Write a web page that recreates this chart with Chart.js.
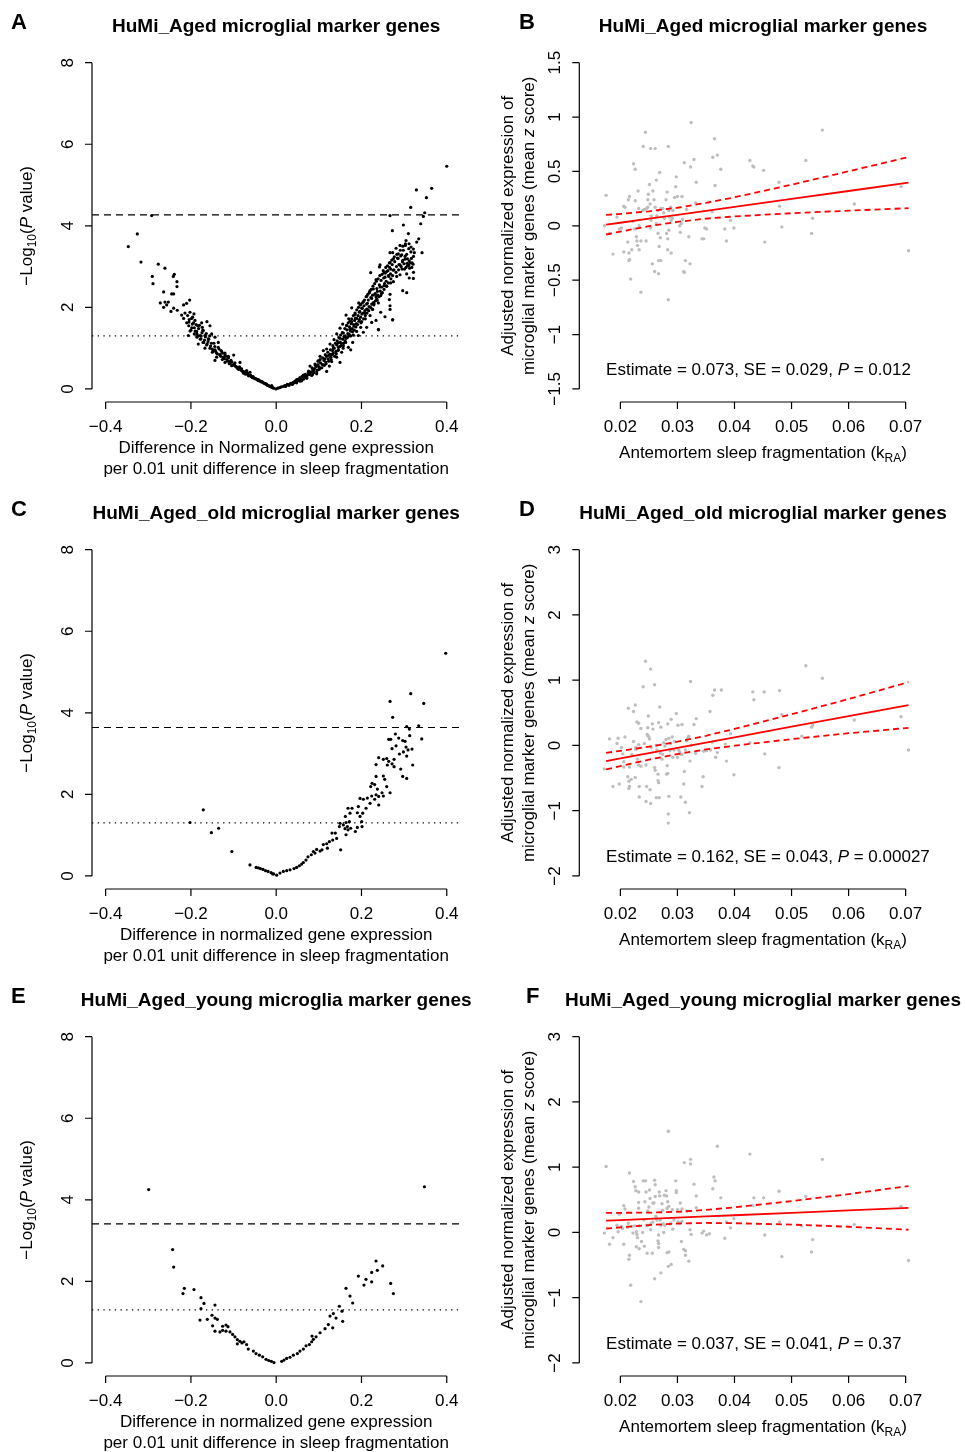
<!DOCTYPE html>
<html>
<head>
<meta charset="utf-8">
<script src="https://cdn.jsdelivr.net/npm/chart.js@4.4.0/dist/chart.umd.min.js"></script>
<style>
  body { margin: 0; background: #fff; }
  #fig { position: relative; width: 965px; height: 1452px; }
  canvas { position: absolute; }
</style>
</head>
<body>
<div id="fig">
  <canvas id="pA" width="482" height="487" style="left:0;top:0"></canvas>
  <canvas id="pB" width="483" height="487" style="left:482px;top:0"></canvas>
  <canvas id="pC" width="482" height="487" style="left:0;top:487px"></canvas>
  <canvas id="pD" width="483" height="487" style="left:482px;top:487px"></canvas>
  <canvas id="pE" width="482" height="478" style="left:0;top:974px"></canvas>
  <canvas id="pF" width="483" height="478" style="left:482px;top:974px"></canvas>
</div>
<script>
// ---- axis ticks / labels ----
const volcanoXTicks = [-0.4, -0.2, 0.0, 0.2, 0.4];
const volcanoXLabels = ['\u22120.4', '\u22120.2', '0.0', '0.2', '0.4'];
const volcanoYTicks = [0, 2, 4, 6, 8];
const scatterXTicks = [0.02, 0.03, 0.04, 0.05, 0.06, 0.07];
const scatterXLabels = ['0.02', '0.03', '0.04', '0.05', '0.06', '0.07'];
const bYTicks = [-1.5, -1, -0.5, 0, 0.5, 1, 1.5];
const bYLabels = ['\u22121.5', '\u22121', '\u22120.5', '0', '0.5', '1', '1.5'];
const dfYTicks = [-2, -1, 0, 1, 2, 3];
const dfYLabels = ['\u22122', '\u22121', '0', '1', '2', '3'];

// ---- significance thresholds (-log10 P) ----
const nominalLine = 1.3;
const bonferroniA = 4.27;
const bonferroniC = 3.64;
const bonferroniE = 3.41;

// ---- volcano points [difference, -log10 P] ----
const panelA_points = [
  [0.400,5.46],[0.3647,4.92],[0.3288,4.88],[0.3522,4.69],[0.3155,4.45],[0.3483,4.32],[0.3452,4.23],[0.2670,4.25],
  [0.3389,4.05],[0.2983,4.02],[0.2724,3.88],[0.3100,3.81],[0.3342,3.68],[0.3295,3.60],[0.3045,3.64],[0.3116,3.56],
  [0.3030,3.52],[0.3163,3.48],[0.2904,3.52],[0.2811,3.45],[0.3217,3.43],[0.3420,3.34],[0.2670,3.34],[0.2732,3.34],
  [0.2865,3.31],[0.2943,3.29],[0.3022,3.25],[0.2842,3.21],[0.3077,3.19],[0.2967,3.15],[0.2748,3.19],[0.3139,3.09],
  [0.3186,3.09],[0.2998,3.07],[0.2654,3.09],[0.2435,3.04],[0.2420,2.99],[0.2904,3.04],[0.3108,3.03],[0.3045,2.98],
  [0.2951,2.94],[0.2685,2.94],[0.2748,2.91],[0.2591,2.88],[0.2529,2.85],[0.2482,2.81],[0.2216,2.85],[0.2630,2.78],
  [0.2552,2.74],[0.2826,2.76],[0.2904,2.80],[0.3217,2.71],[0.2748,2.63],[0.2685,2.60],[0.2341,2.68],[0.2529,2.53],
  [0.2435,2.50],[0.2591,2.52],[0.2279,2.45],[0.2201,2.41],[0.2373,2.39],[0.2185,2.36],[0.2318,2.32],[0.2490,2.36],
  [0.2670,2.32],[0.2967,2.41],[0.3061,2.36],[0.2122,2.27],[0.2240,2.22],[0.2357,2.21],[0.2451,2.29],[0.2654,2.19],
  [0.2044,2.14],[0.2138,2.10],[0.2294,2.09],[0.2396,2.11],[0.1989,2.08],[0.1935,2.11],[0.2670,2.04],[0.2670,1.95],
  [0.1771,1.99],[0.2005,1.98],[0.2122,1.96],[0.2263,1.95],[0.2451,1.88],[0.2083,1.86],[0.1950,1.88],[0.1849,1.83],
  [0.2201,1.80],[0.2552,1.77],[0.1638,1.81],[0.1700,1.72],[0.1888,1.73],[0.2091,1.72],[0.2341,1.68],[0.2732,1.70],
  [0.1771,1.65],[0.2005,1.65],[0.2240,1.63],[0.1559,1.59],[0.1653,1.55],[0.1825,1.54],[0.1982,1.51],[0.2122,1.51],
  [0.2396,1.46],[0.1497,1.49],[0.1731,1.46],[0.1888,1.41],[0.2044,1.39],[0.1575,1.37],[0.1419,1.35],[0.1810,1.32],
  [0.1927,1.31],[0.1692,1.29],[0.1497,1.24],[0.1356,1.21],[0.1614,1.18],[0.1794,1.14],[0.1458,1.13],[0.1262,1.10],
  [0.1575,1.06],[0.1692,1.02],[0.1340,1.00],[0.1184,0.98],[0.1458,0.96],[0.1106,0.94],[0.1747,0.96],[0.1536,0.90],
  [0.1325,0.86],[0.1223,0.82],[0.1028,0.80],[0.1419,0.78],[0.1145,0.74],[0.0989,0.69],[0.1301,0.67],[0.1497,0.65],
  [0.0910,0.61],[0.1106,0.59],[0.1247,0.56],[0.0793,0.56],[0.1028,0.51],[0.0871,0.45],[0.1184,0.43],[0.0754,0.41],
  [0.0949,0.37],[0.0637,0.34],[0.0832,0.33],[0.0558,0.28],[0.0715,0.26],[0.0480,0.23],[0.0597,0.20],[0.0402,0.16],
  [0.0363,0.14],[0.273,1.69],[0.240,1.45],
  [0.100,0.55],[0.104,0.64],[0.108,0.60],[0.112,0.70],[0.116,0.66],[0.118,0.80],[0.122,0.74],[0.126,0.85],
  [0.128,0.78],[0.132,0.94],[0.134,0.88],[0.136,1.00],[0.140,0.92],[0.142,1.08],[0.146,1.02],[0.150,1.15],
  [0.152,1.06],[0.156,1.22],[0.158,1.12],[0.162,1.30],[0.164,1.24],[0.166,1.45],[0.168,1.36],[0.172,1.52],
  [0.174,1.42],[0.176,1.60],[0.178,1.48],[0.182,1.58],[0.184,1.68],[0.186,1.74],[0.188,1.60],[0.192,1.80],
  [0.194,1.66],[0.196,1.90],[0.198,1.76],[0.202,1.98],[0.204,1.86],[0.206,2.04],[0.208,1.92],[0.212,2.08],
  [0.214,1.95],[0.216,2.18],[0.218,2.02],[0.222,2.24],[0.224,2.08],[0.226,2.30],[0.228,2.12],[0.232,2.34],
  [0.234,2.26],[0.236,2.46],[0.238,2.30],[0.242,2.55],[0.244,2.40],[0.246,2.66],[0.248,2.50],[0.252,2.72],
  [0.254,2.58],[0.256,2.84],[0.258,2.64],[0.262,2.90],[0.264,2.76],[0.266,2.98],[0.268,2.82],[0.272,3.05],
  [0.276,2.92],[0.278,3.12],[0.282,3.00],[0.286,3.20],[0.288,3.05],[0.292,3.26],[0.296,3.12],[0.298,3.40],
  [0.302,3.18],[0.306,3.30],[0.308,3.02],[0.312,3.14],[0.316,3.36],[0.318,2.98],[0.322,3.25],[0.306,2.82],
  [0.312,2.72],[0.322,2.86],
  [0.101,0.48],[0.103,0.72],[0.107,0.52],[0.109,0.76],[0.113,0.58],[0.115,0.84],[0.117,0.62],[0.121,0.90],
  [0.123,0.68],[0.127,0.96],[0.129,0.72],[0.131,0.84],[0.133,1.06],[0.137,0.80],[0.139,1.12],[0.141,0.86],
  [0.143,1.18],[0.145,0.94],[0.147,1.26],[0.149,1.04],[0.151,1.32],[0.153,1.12],[0.155,1.38],[0.157,1.00],
  [0.159,1.28],[0.161,1.48],[0.163,1.14],[0.165,1.56],[0.167,1.26],[0.169,1.62],[0.171,1.34],[0.173,1.66],
  [0.175,1.30],[0.177,1.72],[0.179,1.40],[0.181,1.80],[0.183,1.44],[0.185,1.86],[0.187,1.52],[0.189,1.94],
  [0.191,1.58],[0.193,2.00],[0.195,1.70],[0.197,2.06],[0.199,1.62],[0.201,1.84],[0.203,2.12],[0.205,1.72],
  [0.207,2.18],[0.209,1.80],[0.211,2.26],[0.213,1.86],[0.215,2.32],[0.217,1.92],[0.219,2.38],[0.221,2.00],
  [0.223,2.44],[0.225,1.96],[0.227,2.52],[0.229,2.06],[0.231,2.58],[0.233,2.16],[0.235,2.64],[0.237,2.18],
  [0.239,2.70],[0.241,2.26],[0.243,2.78],[0.247,2.34],[0.251,2.90],[0.253,2.44],[0.257,2.98],[0.259,2.52],
  [0.261,3.02],[0.263,2.60],[0.267,3.10],[0.269,2.70],[0.271,3.16],[0.273,2.78],[0.277,3.24],[0.281,2.86],
  [0.283,3.30],[0.287,2.92],[0.291,3.40],[0.293,3.00],[0.297,3.50],[0.301,2.94],[0.303,3.56],[0.307,3.08],
  [0.311,3.44],[0.313,2.96],[0.317,3.20],[0.321,3.06],[0.324,3.34],
  [0.022,0.06],[0.026,0.11],[0.030,0.09],[0.034,0.14],[0.038,0.11],[0.044,0.19],[0.048,0.15],[0.052,0.24],
  [0.056,0.19],[0.060,0.30],[0.064,0.24],[0.068,0.36],[0.072,0.29],[0.076,0.44],[0.080,0.35],[0.084,0.52],
  [0.088,0.40],[0.092,0.58],[0.096,0.46],[0.098,0.68],
  [0.042,0.15],[0.046,0.17],[0.050,0.20],[0.054,0.21],[0.058,0.25],[0.062,0.27],[0.066,0.30],[0.070,0.33],
  [0.074,0.35],[0.078,0.40],[0.082,0.42],[0.086,0.48],[0.090,0.50],[0.094,0.55],[0.098,0.60],[0.085,0.35],
  [0.095,0.42],[0.004,0.02],[0.008,0.03],[0.012,0.05],[0.016,0.06],[0.020,0.08],[0.024,0.09],[0.028,0.10],
  [0.032,0.12],[0.036,0.13],
  [-0.292,4.25],[-0.3258,3.80],[-0.3469,3.49],[-0.3171,3.11],[-0.2765,3.06],[-0.2609,2.96],[-0.2906,2.76],
  [-0.2390,2.81],[-0.2413,2.76],[-0.2327,2.63],[-0.2890,2.58],[-0.2327,2.51],[-0.2640,2.38],[-0.2452,2.33],
  [-0.2405,2.33],[-0.2030,2.18],[-0.2718,2.11],[-0.2609,2.13],[-0.2531,2.13],[-0.2569,2.06],[-0.2640,2.00],
  [-0.2405,1.98],[-0.2171,2.06],[-0.2101,2.10],[-0.2320,1.93],[-0.2468,1.90],[-0.2139,1.86],[-0.2217,1.81],
  [-0.2022,1.88],[-0.1929,1.84],[-0.2077,1.80],[-0.1983,1.73],[-0.2171,1.73],[-0.1905,1.68],[-0.2046,1.64],
  [-0.1967,1.59],[-0.1749,1.62],[-0.1624,1.65],[-0.1553,1.55],[-0.1842,1.55],[-0.1733,1.51],[-0.2022,1.42],
  [-0.1866,1.41],[-0.1710,1.43],[-0.1921,1.35],[-0.1788,1.31],[-0.1671,1.31],[-0.1514,1.35],[-0.2061,1.31],
  [-0.1858,1.27],[-0.1765,1.23],[-0.1593,1.23],[-0.1436,1.27],[-0.1717,1.14],[-0.1827,1.10],[-0.1631,1.08],
  [-0.1358,1.14],[-0.1553,1.00],[-0.1671,1.00],[-0.1436,0.96],[-0.1498,0.90],[-0.1295,0.94],[-0.1201,0.88],
  [-0.1318,0.83],[-0.1397,0.78],[-0.1436,0.70],[-0.1264,0.72],[-0.1122,0.80],[-0.0997,0.83],[-0.1083,0.67],
  [-0.1201,0.65],[-0.0967,0.64],[-0.1045,0.57],[-0.0849,0.65],[-0.0904,0.53],[-0.0810,0.49],[-0.0693,0.45],
  [-0.0771,0.39],[-0.0615,0.41],[-0.0654,0.33],[-0.0560,0.29],[-0.0497,0.25],[-0.0419,0.23],[-0.0342,0.18],
  [-0.0224,0.12],[-0.0106,0.08],[-0.0005,0.00],
  [-0.210,1.62],[-0.205,1.55],[-0.198,1.50],[-0.194,1.62],[-0.190,1.42],[-0.186,1.35],[-0.182,1.48],[-0.178,1.22],
  [-0.174,1.38],[-0.170,1.14],[-0.166,1.28],[-0.162,1.10],[-0.158,1.22],[-0.154,1.05],[-0.150,0.98],[-0.146,1.12],
  [-0.142,0.92],[-0.138,0.86],[-0.134,0.98],[-0.130,0.80],[-0.126,0.88],[-0.122,0.74],[-0.118,0.80],[-0.114,0.68],
  [-0.110,0.62],[-0.106,0.70],[-0.102,0.58],[-0.098,0.60],[-0.094,0.55],[-0.090,0.50],[-0.086,0.54],[-0.082,0.46],
  [-0.078,0.43],[-0.074,0.42],[-0.070,0.38],[-0.066,0.36],[-0.062,0.33],[-0.058,0.30],[-0.054,0.30],[-0.050,0.26],
  [-0.046,0.24],[-0.042,0.21],[-0.038,0.20],[-0.034,0.17],[-0.030,0.15],[-0.026,0.13],[-0.022,0.10],[-0.018,0.08],
  [-0.014,0.06],[-0.010,0.04],[-0.006,0.02],
  [-0.204,1.70],[-0.200,1.44],[-0.196,1.76],[-0.192,1.50],[-0.188,1.58],[-0.184,1.30],[-0.180,1.56],[-0.176,1.30],
  [-0.172,1.44],[-0.168,1.20],[-0.164,1.36],[-0.160,1.16],[-0.156,1.30],[-0.152,1.12],[-0.148,0.94],[-0.144,1.04],
  [-0.140,0.88],[-0.136,1.02],[-0.132,0.84],[-0.128,0.92],[-0.124,0.78],[-0.120,0.84],[-0.116,0.72],[-0.112,0.76],
  [-0.108,0.64],[-0.104,0.66],[-0.100,0.60],[-0.096,0.56],[-0.092,0.52],[-0.088,0.48],[-0.084,0.50],[-0.080,0.44],
  [-0.076,0.40],[-0.072,0.36],[-0.068,0.40],[-0.064,0.32],[-0.060,0.34],[-0.056,0.28],[-0.052,0.27],[-0.048,0.25],
  [-0.044,0.22],[-0.040,0.20],[-0.036,0.18],[-0.032,0.17],[-0.028,0.14],[-0.024,0.12],[-0.020,0.09],[-0.016,0.07],
  [-0.012,0.05],[-0.008,0.03]
];

const panelC_points = [
  [0.3976,5.46],[0.3155,4.47],[0.2670,4.28],[0.3460,4.23],[0.2732,3.89],[0.3061,3.66],[0.3123,3.60],[0.3342,3.68],
  [0.2795,3.48],[0.2686,3.35],[0.2639,3.35],[0.2873,3.38],[0.2967,3.32],[0.3022,3.30],[0.3413,3.36],[0.3131,3.44],
  [0.2811,3.19],[0.2717,3.12],[0.3045,3.16],[0.3186,3.11],[0.3092,3.09],[0.2983,3.04],[0.2889,2.99],[0.3061,2.94],
  [0.2404,2.90],[0.2513,2.86],[0.2592,2.88],[0.2639,2.81],[0.2764,2.86],[0.2342,2.73],[0.2717,2.75],[0.2607,2.72],
  [0.2764,2.68],[0.3201,2.72],[0.2920,2.62],[0.2967,2.44],[0.3061,2.39],[0.2342,2.44],[0.2513,2.45],[0.2545,2.37],
  [0.2248,2.27],[0.2310,2.24],[0.2216,2.19],[0.2373,2.13],[0.2592,2.19],[0.2482,2.04],[0.2670,2.04],[0.2342,1.99],
  [0.2240,1.96],[0.2404,1.95],[0.2513,1.96],[0.2310,1.88],[0.2138,1.91],[0.2201,1.78],[0.2404,1.74],[0.2044,1.88],
  [0.1966,1.90],[0.1927,1.70],[0.2107,1.66],[0.2029,1.54],[0.1778,1.66],[0.1903,1.55],[0.1684,1.66],[0.1731,1.54],
  [0.1966,1.46],[0.1622,1.46],[0.1716,1.33],[0.2005,1.33],[0.1638,1.31],[0.1575,1.25],[0.1669,1.21],[0.1747,1.17],
  [0.1497,1.29],[0.1481,1.21],[0.1614,1.16],[0.1903,1.19],[0.2013,1.21],[0.1684,1.13],[0.1638,1.01],[0.1856,1.09],
  [0.1387,1.05],[0.1309,1.05],[0.1419,0.92],[0.1325,0.88],[0.1247,0.84],[0.1184,0.79],[0.1106,0.77],[0.1200,0.68],
  [0.1512,0.64],[0.1074,0.64],[0.1028,0.61],[0.0949,0.65],[0.0871,0.60],[0.0910,0.56],[0.0824,0.52],[0.0746,0.47],
  [0.0699,0.39],[0.0637,0.33],[0.0597,0.29],[0.0543,0.25],[0.0480,0.21],[0.0418,0.18],[0.0324,0.15],[0.0246,0.13],
  [0.0167,0.11],[0.0089,0.07],[0.0011,0.02],[-0.0083,0.05],
  [-0.2022,1.31],[-0.171,1.62],[-0.152,1.06],[-0.135,1.17],[-0.104,0.60],[-0.0615,0.27],[-0.047,0.21],[-0.042,0.20],
  [-0.037,0.18],[-0.031,0.16],[-0.025,0.13],[-0.019,0.11],[-0.012,0.08],[-0.006,0.05]
];

const panelE_points = [
  [-0.2991,4.25],[0.3476,4.32],[-0.2429,2.78],[-0.2405,2.35],[-0.2155,1.83],[-0.2186,1.70],[-0.1928,1.80],[-0.1764,1.60],
  [-0.1694,1.46],[-0.1764,1.33],[-0.1436,1.42],[-0.1788,1.05],[-0.1616,1.07],[-0.1506,1.17],[-0.1436,1.10],[-0.1381,1.07],
  [-0.1491,0.91],[-0.1436,0.78],[-0.1319,0.76],[-0.1256,0.90],[-0.1178,0.93],[-0.1131,0.89],[-0.1256,0.80],[-0.1178,0.78],
  [-0.1084,0.76],[-0.1022,0.70],[-0.0967,0.64],[-0.0912,0.57],[-0.0850,0.53],[-0.0803,0.49],[-0.0756,0.52],[-0.0694,0.45],
  [-0.0654,0.34],[-0.0912,0.47],[-0.0536,0.29],[-0.0473,0.23],[-0.0395,0.19],[-0.0317,0.15],[-0.0239,0.09],[-0.0176,0.06],
  [-0.0114,0.04],[-0.0052,0.01],[0.0129,0.04],[0.0184,0.07],[0.0246,0.11],[0.0324,0.14],[0.0402,0.19],[0.0496,0.23],
  [0.0558,0.29],[0.0637,0.34],[0.0700,0.42],[0.0778,0.45],[0.0833,0.52],[0.0872,0.58],[0.0935,0.64],[0.0840,0.66],
  [0.1028,0.74],[0.1145,0.84],[0.1223,0.94],[0.1262,1.15],[0.1340,1.21],[0.1325,0.86],[0.1403,1.10],[0.1481,1.39],
  [0.1559,1.02],[0.1543,1.27],[0.1637,1.83],[0.1731,1.64],[0.1794,1.47],[0.1927,2.13],[0.2059,1.91],[0.2106,2.05],
  [0.2239,1.99],[0.2239,2.22],[0.2341,2.50],[0.2372,2.27],[0.2497,2.38],[0.2685,1.95],[0.2748,1.70]
];

// ---- per-subject points [k_RA, adjusted expression] ----
const panelB_points = [
  [0.0175,0.28],[0.0172,0.00],[0.0181,-0.07],[0.0187,-0.26],[0.0194,0.08],[0.0198,-0.03],[0.0202,-0.02],[0.0206,0.18],
  [0.0208,0.17],[0.0206,-0.24],[0.0213,-0.15],[0.0215,-0.25],[0.0215,-0.32],[0.0216,-0.31],[0.0214,0.24],[0.0216,0.27],
  [0.0218,-0.49],[0.0220,-0.22],[0.0223,0.57],[0.0226,0.52],[0.0226,0.23],[0.0222,0.04],[0.0225,-0.03],[0.0228,-0.10],
  [0.0229,-0.14],[0.0230,-0.18],[0.0231,0.32],[0.0232,0.16],[0.0233,-0.22],[0.0233,0.00],[0.0236,-0.61],[0.0236,-0.14],
  [0.0239,0.14],[0.0240,0.73],[0.0242,0.15],[0.0244,0.86],[0.0245,-0.14],[0.0246,0.16],[0.0248,0.17],[0.0249,0.29],
  [0.0248,0.24],[0.0251,0.38],[0.0252,0.20],[0.0253,0.71],[0.0253,-0.02],[0.0254,0.05],[0.0254,0.09],[0.0256,-0.35],
  [0.0257,0.32],[0.0259,0.24],[0.0260,-0.42],[0.0261,0.71],[0.0261,0.17],[0.0263,0.42],[0.0263,0.02],[0.0264,0.09],
  [0.0266,0.14],[0.0266,-0.07],[0.0267,-0.44],[0.0267,-0.32],[0.0268,-0.19],[0.0269,0.49],[0.0270,-0.11],[0.0271,-0.32],
  [0.0271,0.16],[0.0274,0.16],[0.0276,0.12],[0.0277,0.07],[0.0280,0.24],[0.0281,-0.07],[0.0282,0.31],[0.0283,-0.22],
  [0.0283,-0.12],[0.0284,0.73],[0.0284,-0.68],[0.0285,-0.04],[0.0285,0.14],[0.0286,0.08],[0.0288,0.17],[0.0289,-0.25],
  [0.0289,0.05],[0.0291,0.07],[0.0292,0.14],[0.0295,0.26],[0.0297,0.36],[0.0298,0.45],[0.0300,0.27],[0.0304,0.00],
  [0.0305,-0.06],[0.0307,0.02],[0.0308,0.27],[0.0309,0.06],[0.0312,0.58],[0.0314,-0.32],[0.0311,-0.42],[0.0312,-0.43],
  [0.0316,0.15],[0.0320,-0.10],[0.0322,-0.35],[0.0323,0.54],[0.0324,0.95],[0.0329,0.61],[0.0333,0.40],[0.0332,0.21],
  [0.0343,-0.12],[0.0346,-0.12],[0.0348,-0.02],[0.0351,-0.03],[0.0356,0.22],[0.0361,0.13],[0.0362,0.63],[0.0365,0.80],
  [0.0366,0.37],[0.0370,0.65],[0.0376,0.52],[0.0383,-0.03],[0.0386,-0.14],[0.0393,0.05],[0.0399,-0.02],[0.0427,0.60],
  [0.0432,0.55],[0.0434,0.54],[0.0451,0.51],[0.0453,-0.15],[0.0478,0.40],[0.0479,0.18],[0.0483,-0.01],[0.0525,0.60],
  [0.0535,-0.07],[0.0537,0.07],[0.0554,0.88],[0.0610,0.20],[0.0692,0.36],[0.0705,-0.23]
];

const panelD_points = [
  [0.0181,0.10],[0.0172,-0.36],[0.0187,-0.63],[0.0194,0.03],[0.0196,0.11],[0.0198,-0.59],[0.0202,-0.03],[0.0204,-0.13],
  [0.0206,-0.25],[0.0206,-0.33],[0.0208,0.13],[0.0213,-0.48],[0.0214,0.57],[0.0215,-0.66],[0.0215,-0.55],[0.0216,-0.63],
  [0.0216,-0.33],[0.0219,-0.52],[0.0220,-0.14],[0.0223,0.06],[0.0223,0.52],[0.0226,0.62],[0.0226,-0.49],[0.0227,-0.06],
  [0.0227,-0.03],[0.0229,0.36],[0.0230,-0.21],[0.0232,-0.30],[0.0232,0.01],[0.0232,0.34],[0.0233,-0.63],[0.0233,-0.79],
  [0.0236,-0.32],[0.0236,0.26],[0.0240,0.90],[0.0242,0.03],[0.0244,1.29],[0.0245,-0.30],[0.0245,-0.86],[0.0246,-0.63],
  [0.0247,0.17],[0.0248,0.27],[0.0248,0.15],[0.0249,0.45],[0.0250,0.13],[0.0251,0.10],[0.0252,-0.68],[0.0253,1.17],
  [0.0253,-0.89],[0.0254,-0.03],[0.0256,0.33],[0.0257,0.25],[0.0260,0.93],[0.0260,-0.34],[0.0261,-0.38],[0.0263,-0.80],
  [0.0263,0.00],[0.0264,-0.07],[0.0266,-0.44],[0.0266,-0.54],[0.0267,-0.57],[0.0267,0.35],[0.0268,-0.80],[0.0269,0.59],
  [0.0270,-0.12],[0.0271,0.28],[0.0273,-0.21],[0.0274,-0.14],[0.0276,0.04],[0.0278,-0.01],[0.0280,0.09],[0.0281,-0.44],
  [0.0282,-0.31],[0.0283,-0.43],[0.0283,0.33],[0.0284,-1.19],[0.0284,-1.05],[0.0285,-0.78],[0.0285,0.11],[0.0287,-0.08],
  [0.0288,0.03],[0.0289,0.40],[0.0291,0.13],[0.0292,-0.18],[0.0294,-0.07],[0.0295,0.06],[0.0298,0.49],[0.0300,-0.18],
  [0.0301,0.31],[0.0302,-0.07],[0.0304,-0.10],[0.0305,-0.13],[0.0306,-0.79],[0.0308,-0.14],[0.0308,0.32],[0.0311,-0.59],
  [0.0312,-0.40],[0.0314,-0.87],[0.0314,-0.07],[0.0316,0.07],[0.0318,0.11],[0.0320,0.14],[0.0321,-1.03],[0.0322,-0.24],
  [0.0323,0.98],[0.0324,0.00],[0.0329,0.32],[0.0333,0.41],[0.0332,-0.12],[0.0343,-0.63],[0.0345,-0.48],[0.0346,-0.09],
  [0.0351,-0.08],[0.0357,0.52],[0.0358,-0.07],[0.0361,0.05],[0.0362,0.77],[0.0365,0.85],[0.0367,-0.18],[0.0370,-0.11],
  [0.0377,0.85],[0.0384,0.02],[0.0386,-0.24],[0.0393,0.18],[0.0399,-0.45],[0.0427,0.04],[0.0432,0.82],[0.0434,0.70],
  [0.0452,0.82],[0.0453,-0.13],[0.0478,-0.34],[0.0479,0.84],[0.0483,0.47],[0.0518,0.14],[0.0525,1.22],[0.0535,0.28],
  [0.0537,0.31],[0.0554,1.03],[0.0610,0.39],[0.0692,0.44],[0.0705,-0.07]
];

const panelF_points = [
  [0.0175,1.01],[0.0172,-0.01],[0.0181,-0.18],[0.0187,-0.08],[0.0194,0.11],[0.0196,0.01],[0.0198,0.28],[0.0202,0.09],
  [0.0204,0.06],[0.0206,0.41],[0.0206,-0.18],[0.0208,0.36],[0.0213,0.08],[0.0214,0.14],[0.0215,-0.41],[0.0216,-0.35],
  [0.0216,0.91],[0.0218,-0.81],[0.0220,0.09],[0.0222,-0.01],[0.0223,0.78],[0.0225,0.10],[0.0226,0.70],[0.0227,0.64],
  [0.0228,-0.22],[0.0228,0.01],[0.0229,-0.03],[0.0230,-0.08],[0.0232,0.62],[0.0232,0.46],[0.0232,0.37],[0.0233,-0.25],
  [0.0233,0.10],[0.0236,-1.06],[0.0237,-0.14],[0.0239,0.00],[0.0240,0.79],[0.0241,0.19],[0.0242,-0.21],[0.0243,0.47],
  [0.0244,0.79],[0.0245,0.62],[0.0246,0.11],[0.0247,-0.32],[0.0248,0.33],[0.0249,0.11],[0.0250,0.39],[0.0251,0.65],
  [0.0252,0.52],[0.0253,0.04],[0.0254,0.14],[0.0256,-0.32],[0.0257,0.45],[0.0257,0.16],[0.0259,0.45],[0.0260,-0.71],
  [0.0260,0.80],[0.0261,0.73],[0.0261,0.55],[0.0262,0.25],[0.0263,0.23],[0.0264,0.19],[0.0266,-0.13],[0.0267,-0.23],
  [0.0267,-0.04],[0.0267,-0.17],[0.0268,0.62],[0.0269,0.56],[0.0270,0.19],[0.0271,0.11],[0.0271,-0.62],[0.0273,0.44],
  [0.0274,0.34],[0.0275,0.13],[0.0276,0.00],[0.0277,0.57],[0.0278,0.11],[0.0280,0.64],[0.0281,0.56],[0.0282,-0.31],
  [0.0282,0.37],[0.0283,0.47],[0.0284,-0.52],[0.0284,1.55],[0.0285,-0.30],[0.0285,0.40],[0.0287,0.13],[0.0289,-0.49],
  [0.0289,0.14],[0.0291,0.35],[0.0292,0.05],[0.0294,0.19],[0.0297,0.79],[0.0298,0.64],[0.0298,0.61],[0.0300,0.35],
  [0.0301,0.16],[0.0304,0.14],[0.0305,0.45],[0.0307,-0.14],[0.0308,0.36],[0.0308,0.17],[0.0311,-0.26],[0.0312,1.07],
  [0.0314,-0.28],[0.0314,-0.35],[0.0316,0.33],[0.0320,-0.44],[0.0322,0.04],[0.0323,1.05],[0.0323,1.12],[0.0324,-0.03],
  [0.0329,0.74],[0.0333,0.38],[0.0333,0.56],[0.0343,-0.01],[0.0346,0.02],[0.0351,-0.04],[0.0356,-0.02],[0.0362,0.67],
  [0.0364,0.85],[0.0366,0.79],[0.0370,1.32],[0.0376,0.53],[0.0383,-0.09],[0.0386,0.16],[0.0393,0.07],[0.0399,0.21],
  [0.0427,1.20],[0.0432,0.41],[0.0434,0.53],[0.0451,0.53],[0.0453,-0.04],[0.0478,0.63],[0.0479,0.16],[0.0483,-0.37],
  [0.0518,0.10],[0.0525,0.55],[0.0535,-0.30],[0.0537,-0.11],[0.0554,1.12],[0.0610,0.12],[0.0692,0.40],[0.0705,-0.43]
];

// ---- regression fit and 95% band, read at these k_RA values ----
const bandX = [0.0175, 0.02, 0.025, 0.03, 0.035, 0.04, 0.05, 0.06, 0.0705];
const fitB   = [0.010, 0.028, 0.065, 0.101, 0.138, 0.174, 0.247, 0.320, 0.397];
const upperB = [0.100, 0.109, 0.133, 0.166, 0.210, 0.262, 0.378, 0.501, 0.632];
const lowerB = [-0.080, -0.053, -0.003, 0.036, 0.066, 0.086, 0.116, 0.139, 0.162];
const fitD   = [-0.240, -0.200, -0.119, -0.038, 0.044, 0.125, 0.287, 0.449, 0.619];
const upperD = [-0.113, -0.083, -0.020, 0.057, 0.148, 0.253, 0.477, 0.711, 0.969];
const lowerD = [-0.367, -0.317, -0.218, -0.132, -0.061, -0.004, 0.097, 0.187, 0.269];
const fitF   = [0.180, 0.189, 0.208, 0.226, 0.245, 0.263, 0.300, 0.337, 0.376];
const upperF = [0.300, 0.301, 0.303, 0.316, 0.345, 0.385, 0.480, 0.587, 0.711];
const lowerF = [0.060, 0.077, 0.113, 0.136, 0.145, 0.141, 0.120, 0.087, 0.041];

// ---- drawing helpers ----
const FONT = "'Liberation Sans', Arial, Helvetica, sans-serif";
const F17 = '17px ' + FONT;
const F17I = 'italic 17px ' + FONT;
const F12 = '12px ' + FONT;

function drawRich(ctx, segs, x, y, align, angle) {
  let w = 0;
  segs.forEach(s => { ctx.font = s.f; s.w = ctx.measureText(s.t).width; w += s.w; });
  ctx.save();
  ctx.translate(x, y);
  if (angle) ctx.rotate(angle);
  ctx.textAlign = 'left';
  ctx.textBaseline = 'alphabetic';
  let cx = align === 'center' ? -w / 2 : 0;
  segs.forEach(s => { ctx.font = s.f; ctx.fillText(s.t, cx, s.dy || 0); cx += s.w; });
  ctx.restore();
}

// base-R look: detached axes, rotated y tick labels, titles
function rPlot(cfg) {
  return {
    id: 'rplot',
    afterDraw(chart) {
      const ctx = chart.ctx, a = chart.chartArea;
      const xs = chart.scales.x, ys = chart.scales.y;
      ctx.save();
      ctx.fillStyle = '#000';
      ctx.strokeStyle = '#000';
      ctx.lineWidth = 1.2;

      // y axis
      const yp = cfg.yTicks.map(v => ys.getPixelForValue(v));
      ctx.beginPath();
      ctx.moveTo(a.left, yp[0]); ctx.lineTo(a.left, yp[yp.length - 1]);
      yp.forEach(p => { ctx.moveTo(a.left, p); ctx.lineTo(a.left - 7, p); });
      ctx.stroke();
      ctx.font = F17;
      ctx.textAlign = 'center';
      ctx.textBaseline = 'middle';
      yp.forEach((p, i) => {
        ctx.save();
        ctx.translate(a.left - 24, p);
        ctx.rotate(-Math.PI / 2);
        ctx.fillText(cfg.yLabels[i], 0, 0);
        ctx.restore();
      });

      // x axis
      const xp = cfg.xTicks.map(v => xs.getPixelForValue(v));
      ctx.beginPath();
      ctx.moveTo(xp[0], a.bottom); ctx.lineTo(xp[xp.length - 1], a.bottom);
      xp.forEach(p => { ctx.moveTo(p, a.bottom); ctx.lineTo(p, a.bottom + 7); });
      ctx.stroke();
      ctx.textBaseline = 'alphabetic';
      xp.forEach((p, i) => ctx.fillText(cfg.xLabels[i], p, a.bottom + 30));

      const midX = (xp[0] + xp[xp.length - 1]) / 2;
      const midY = (a.top + a.bottom) / 2;

      // x title
      cfg.xTitle.forEach((line, i) => drawRich(ctx, line, midX, a.bottom + cfg.xTitleY[i], 'center'));
      // y title (rotated)
      cfg.yTitle.forEach((line, i) => drawRich(ctx, line, a.left - cfg.yTitleX[i], midY, 'center', -Math.PI / 2));

      // main title and panel letter
      ctx.font = 'bold 19px ' + FONT;
      ctx.textAlign = 'center';
      ctx.fillText(cfg.title, midX, 32);
      ctx.font = 'bold 22px ' + FONT;
      ctx.textAlign = 'left';
      ctx.fillText(cfg.letter, cfg.letterX, 29);

      // statistics
      if (cfg.stats) drawRich(ctx, cfg.stats, xs.getPixelForValue(cfg.statsX), a.bottom - 27, 'left');
      ctx.restore();
    }
  };
}

function pts(list) { return list.map(p => ({ x: p[0], y: p[1] })); }
function curve(ys) { return bandX.map((x, i) => ({ x: x, y: ys[i] })); }

function baseOptions(xmin, xmax, ymin, ymax, padRight, padBottom) {
  return {
    responsive: false,
    animation: false,
    events: [],
    layout: { padding: { left: 0, right: padRight, top: 49.6, bottom: padBottom } },
    plugins: { legend: { display: false }, tooltip: { enabled: false } },
    scales: {
      x: { type: 'linear', display: false, min: xmin, max: xmax },
      y: { type: 'linear', display: false, min: ymin, max: ymax }
    }
  };
}

function lineSet(data, color, width, dash) {
  return { data: data, showLine: true, borderColor: color, borderWidth: width,
           borderDash: dash || [], pointRadius: 0, fill: false };
}

const VX_MIN = -0.432, VX_MAX = 0.432;
const SX_MIN = 0.0128, SX_MAX = 0.0722;

function volcano(id, points, bonf, title, letter, xTitle1, padBottom) {
  const opts = baseOptions(VX_MIN, VX_MAX, -0.32, 8.32, 21.6, padBottom);
  opts.layout.padding.left = 92;
  new Chart(document.getElementById(id), {
    type: 'scatter',
    data: {
      datasets: [
        lineSet([{ x: VX_MIN, y: bonf }, { x: VX_MAX, y: bonf }], '#000', 1.2, [7, 5]),
        lineSet([{ x: VX_MIN, y: nominalLine }, { x: VX_MAX, y: nominalLine }], '#000', 1.3, [1.3, 4.4]),
        { data: pts(points), pointRadius: 1.6, pointBorderWidth: 0, backgroundColor: '#000' }
      ]
    },
    options: opts,
    plugins: [rPlot({
      xTicks: volcanoXTicks, xLabels: volcanoXLabels,
      yTicks: volcanoYTicks, yLabels: volcanoYTicks.map(String),
      xTitle: [[{ t: xTitle1, f: F17 }], [{ t: 'per 0.01 unit difference in sleep fragmentation', f: F17 }]],
      xTitleY: [51, 72],
      yTitle: [[{ t: '\u2212Log', f: F17 }, { t: '10', f: F12, dy: 4 }, { t: '(', f: F17 },
                { t: 'P', f: F17I }, { t: ' value)', f: F17 }]],
      yTitleX: [60],
      title: title, letter: letter, letterX: 11
    })]
  });
}

function scatter(id, points, fit, upper, lower, ymin, ymax, yTicks, yLabels, title, letter, letterX, stats, padBottom) {
  const opts = baseOptions(SX_MIN, SX_MAX, ymin, ymax, 46.8, padBottom);
  opts.layout.padding.left = 97.3;
  new Chart(document.getElementById(id), {
    type: 'scatter',
    data: {
      datasets: [
        lineSet(curve(fit), '#ff0000', 1.8),
        lineSet(curve(upper), '#ff0000', 1.8, [6, 4]),
        lineSet(curve(lower), '#ff0000', 1.8, [6, 4]),
        { data: pts(points), pointRadius: 1.7, pointBorderWidth: 0, backgroundColor: '#bebebe' }
      ]
    },
    options: opts,
    plugins: [rPlot({
      xTicks: scatterXTicks, xLabels: scatterXLabels,
      yTicks: yTicks, yLabels: yLabels,
      xTitle: [[{ t: 'Antemortem sleep fragmentation (k', f: F17 }, { t: 'RA', f: F12, dy: 4 }, { t: ')', f: F17 }]],
      xTitleY: [56],
      yTitle: [[{ t: 'Adjusted normalized expression of', f: F17 }],
               [{ t: 'microglial marker genes (mean ', f: F17 }, { t: 'z', f: F17I }, { t: ' score)', f: F17 }]],
      yTitleX: [66.6, 45],
      title: title, letter: letter, letterX: letterX,
      stats: stats, statsX: 0.0175
    })]
  });
}

function statLine(est, se, p) {
  return [{ t: 'Estimate = ' + est + ', SE = ' + se + ', ', f: F17 }, { t: 'P', f: F17I }, { t: ' = ' + p, f: F17 }];
}

volcano('pA', panelA_points, bonferroniA, 'HuMi_Aged microglial marker genes', 'A',
        'Difference in Normalized gene expression', 85);
volcano('pC', panelC_points, bonferroniC, 'HuMi_Aged_old microglial marker genes', 'C',
        'Difference in normalized gene expression', 85);
volcano('pE', panelE_points, bonferroniE, 'HuMi_Aged_young microglia marker genes', 'E',
        'Difference in normalized gene expression', 76);

scatter('pB', panelB_points, fitB, upperB, lowerB, -1.62, 1.62, bYTicks, bYLabels,
        'HuMi_Aged microglial marker genes', 'B', 37, statLine('0.073', '0.029', '0.012'), 85);
scatter('pD', panelD_points, fitD, upperD, lowerD, -2.2, 3.2, dfYTicks, dfYLabels,
        'HuMi_Aged_old microglial marker genes', 'D', 37, statLine('0.162', '0.043', '0.00027'), 85);
scatter('pF', panelF_points, fitF, upperF, lowerF, -2.2, 3.2, dfYTicks, dfYLabels,
        'HuMi_Aged_young microglial marker genes', 'F', 44, statLine('0.037', '0.041', '0.37'), 76);
</script>
</body>
</html>
